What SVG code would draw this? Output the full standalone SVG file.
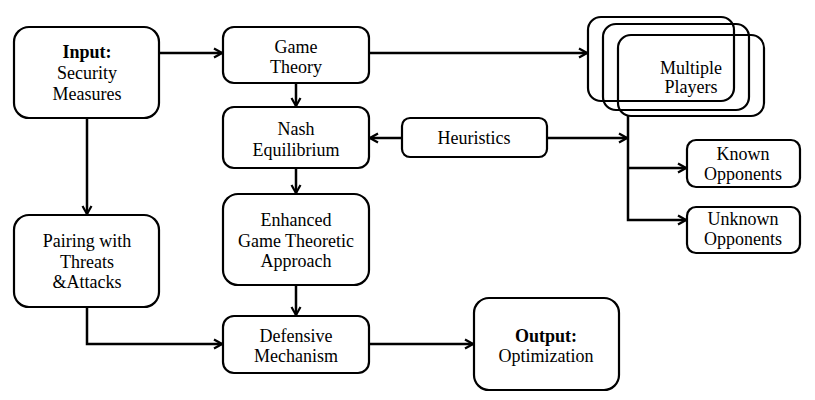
<svg xmlns="http://www.w3.org/2000/svg" width="815" height="400" viewBox="0 0 815 400">
<defs>
<style>
.box{fill:#fff;stroke:#000;stroke-width:2.2}
.mp{fill:none;stroke:#000;stroke-width:2.2}
text{font-family:"Liberation Serif","Times New Roman",serif;font-size:18px;fill:#000;text-anchor:middle}
.b{font-weight:bold}
.c{fill:none;stroke:#000;stroke-width:2.5}
</style>
<marker id="ah" markerWidth="12" markerHeight="12" refX="10" refY="6" orient="auto" markerUnits="userSpaceOnUse">
<path d="M2,1.5 L10,6 L2,10.5" fill="none" stroke="#000" stroke-width="2.2"/>
</marker>
</defs>
<rect width="815" height="400" fill="#fff"/>
<g id="connectors">
<path class="c" d="M159,53 H222" marker-end="url(#ah)"/>
<path class="c" d="M369,53 H587" marker-end="url(#ah)"/>
<path class="c" d="M296,83 V106" marker-end="url(#ah)"/>
<path class="c" d="M402,138 H370" marker-end="url(#ah)"/>
<path class="c" d="M547,138 H627" marker-end="url(#ah)"/>
<path class="c" d="M628,116 V220 H686" marker-end="url(#ah)"/>
<path class="c" d="M628,168 H686" marker-end="url(#ah)"/>
<path class="c" d="M296,168 V193" marker-end="url(#ah)"/>
<path class="c" d="M296,285 V315" marker-end="url(#ah)"/>
<path class="c" d="M87,118 V214" marker-end="url(#ah)"/>
<path class="c" d="M87,307 V344 H222" marker-end="url(#ah)"/>
<path class="c" d="M369,344 H473" marker-end="url(#ah)"/>
</g>
<g id="input">
<rect class="box" x="14" y="27" width="145" height="91" rx="15"/>
<text x="87" y="58" class="b">Input:</text>
<text x="87" y="79">Security</text>
<text x="87" y="100">Measures</text>
</g>
<g id="game-theory">
<rect class="box" x="223" y="27" width="146" height="56" rx="11"/>
<text x="296" y="53">Game</text>
<text x="296" y="73">Theory</text>
</g>
<g id="nash">
<rect class="box" x="223" y="107" width="146" height="61" rx="11"/>
<text x="296" y="135">Nash</text>
<text x="296" y="156">Equilibrium</text>
</g>
<g id="enhanced">
<rect class="box" x="223" y="194" width="146" height="91" rx="15"/>
<text x="296" y="226">Enhanced</text>
<text x="296" y="247">Game Theoretic</text>
<text x="296" y="267">Approach</text>
</g>
<g id="defensive">
<rect class="box" x="223" y="316" width="146" height="57" rx="11"/>
<text x="296" y="342">Defensive</text>
<text x="296" y="362">Mechanism</text>
</g>
<g id="pairing">
<rect class="box" x="14" y="215" width="145" height="92" rx="15"/>
<text x="87" y="247">Pairing with</text>
<text x="87" y="268">Threats</text>
<text x="87" y="288">&amp;Attacks</text>
</g>
<g id="output">
<rect class="box" x="474" y="298" width="145" height="92" rx="15"/>
<text x="546" y="342" class="b">Output:</text>
<text x="546" y="362">Optimization</text>
</g>
<g id="heuristics">
<rect class="box" x="402" y="118" width="145" height="39" rx="8"/>
<text x="474" y="144">Heuristics</text>
</g>
<g id="multiple-players">
<rect class="mp" x="588" y="17" width="146" height="84" rx="13"/>
<rect class="mp" x="603" y="24" width="146" height="86" rx="13"/>
<rect class="mp" x="618" y="35" width="146" height="81" rx="13"/>
<text x="691" y="74">Multiple</text>
<text x="691" y="93">Players</text>
</g>
<g id="known">
<rect class="box" x="687" y="140" width="113" height="47" rx="9"/>
<text x="743" y="160">Known</text>
<text x="743" y="180">Opponents</text>
</g>
<g id="unknown">
<rect class="box" x="687" y="207" width="113" height="46" rx="9"/>
<text x="743" y="225">Unknown</text>
<text x="743" y="245">Opponents</text>
</g>
</svg>
